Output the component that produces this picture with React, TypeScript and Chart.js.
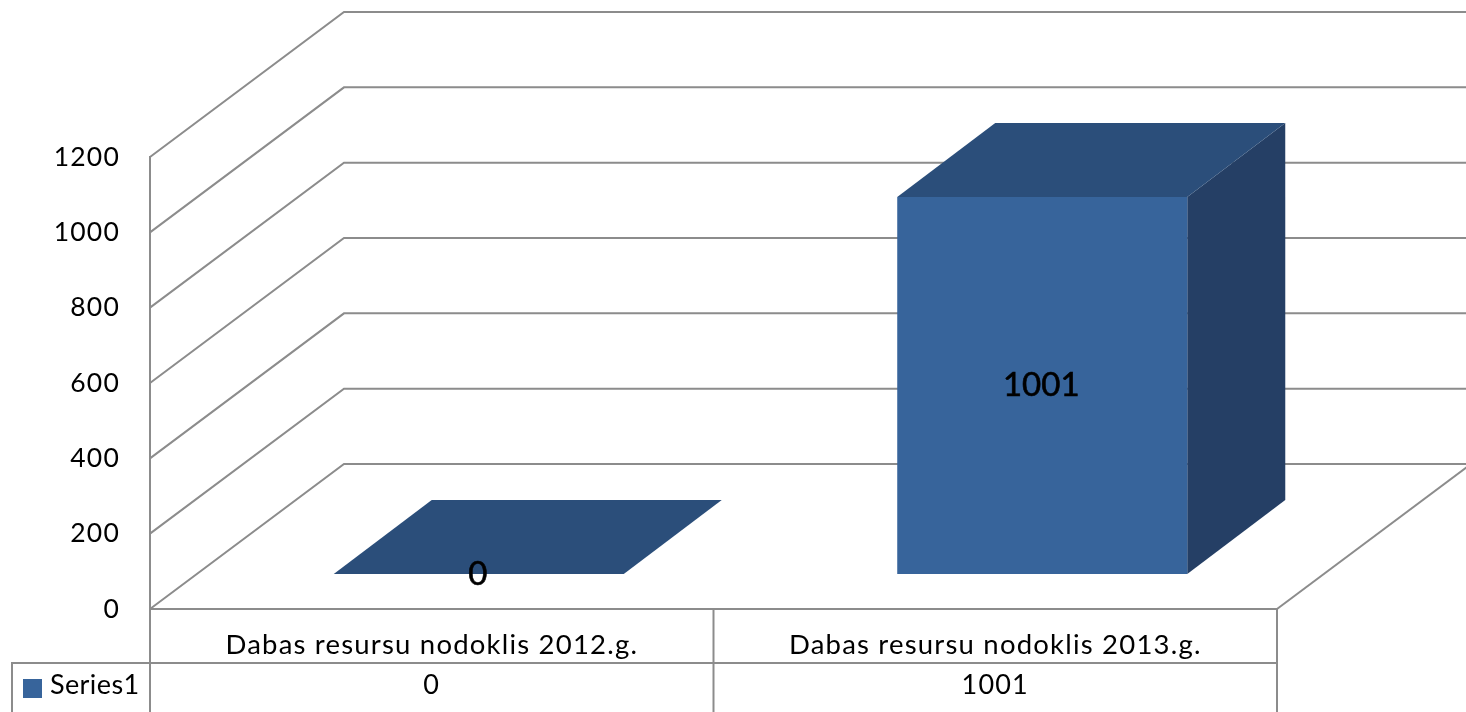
import React, { useEffect, useRef } from "react";
import { Chart, registerables } from "chart.js";

Chart.register(...registerables);

const categories = ["Dabas resursu nodoklis 2012.g.", "Dabas resursu nodoklis 2013.g."];
const seriesName = "Series1";
const seriesValues = [0, 1001];

const FONT = "Lato";
const SPACING = "1.2px";
const LINE = "#8c8c8c";
const FRONT = "#37649b";
const TOP = "#2b4e7a";
const SIDE = "#253f65";

const WALL_DX = 194;
const WALL_DY = 145;
const BAR_DX = 47;
const BAR_DY = 35;
const DEPTH_DX = 98;
const DEPTH_DY = 74;

function poly(ctx: CanvasRenderingContext2D, pts: number[][], fill: string) {
  ctx.beginPath();
  pts.forEach((p, i) => (i ? ctx.lineTo(p[0], p[1]) : ctx.moveTo(p[0], p[1])));
  ctx.closePath();
  ctx.fillStyle = fill;
  ctx.fill();
}

function seg(ctx: CanvasRenderingContext2D, pts: number[][], width: number) {
  ctx.beginPath();
  pts.forEach((p, i) => (i ? ctx.lineTo(p[0], p[1]) : ctx.moveTo(p[0], p[1])));
  ctx.strokeStyle = LINE;
  ctx.lineWidth = width;
  ctx.stroke();
}

const spacingPlugin = {
  id: "spacing",
  beforeLayout(chart: any) {
    chart.ctx.letterSpacing = SPACING;
  },
  beforeDraw(chart: any) {
    chart.ctx.letterSpacing = SPACING;
  },
};

const wallsPlugin = {
  id: "walls",
  beforeDatasetsDraw(chart: any) {
    const { ctx, scales } = chart;
    const { x, y } = scales;
    const left = x.left;
    const right = x.right;
    const edge = chart.width + 10;
    ctx.save();
    ctx.lineJoin = "miter";
    y.ticks.forEach((t: any) => {
      const py = y.getPixelForValue(t.value);
      seg(ctx, [[left, py], [left + WALL_DX, py - WALL_DY], [edge, py - WALL_DY]], 2);
    });
    const base = y.getPixelForValue(0);
    seg(ctx, [[right, base], [right + WALL_DX, base - WALL_DY]], 2);
    const bottom = chart.height + 2;
    const rowY = 663;
    const mid = (x.getPixelForValue(0) + x.getPixelForValue(1)) / 2;
    seg(ctx, [[left, y.bottom], [left, bottom]], 2);
    seg(ctx, [[mid, base], [mid, bottom]], 2);
    seg(ctx, [[right, base], [right, bottom]], 2);
    seg(ctx, [[12, bottom], [12, rowY], [right, rowY]], 2);
    ctx.fillStyle = FRONT;
    ctx.fillRect(23, 679, 19, 19);
    ctx.fillStyle = "#000000";
    ctx.font = `27px ${FONT}`;
    ctx.textBaseline = "middle";
    ctx.textAlign = "left";
    ctx.letterSpacing = "0.4px";
    ctx.fillText(seriesName, 50, 685);
    ctx.letterSpacing = SPACING;
    ctx.textAlign = "center";
    seriesValues.forEach((v, i) => ctx.fillText(String(v), x.getPixelForValue(i), 685));
    ctx.restore();
  },
  beforeDatasetDraw(chart: any, args: any) {
    const { ctx } = chart;
    const meta = chart.getDatasetMeta(args.index);
    ctx.save();
    ctx.translate(BAR_DX, -BAR_DY);
    meta.data.forEach((el: any) => {
      const l = el.x - el.width / 2;
      const r = el.x + el.width / 2;
      const t = el.y;
      const b = el.base;
      poly(ctx, [[r, t], [r + DEPTH_DX, t - DEPTH_DY], [r + DEPTH_DX, b - DEPTH_DY], [r, b]], SIDE);
      poly(ctx, [[l, t], [l + DEPTH_DX, t - DEPTH_DY], [r + DEPTH_DX, t - DEPTH_DY], [r, t]], TOP);
    });
  },
  afterDatasetDraw(chart: any) {
    chart.ctx.restore();
  },
  afterDatasetsDraw(chart: any) {
    const { ctx } = chart;
    const meta = chart.getDatasetMeta(0);
    ctx.save();
    ctx.translate(BAR_DX, -BAR_DY);
    ctx.font = `33px ${FONT}`;
    ctx.letterSpacing = "0px";
    ctx.textAlign = "center";
    ctx.textBaseline = "middle";
    ctx.fillStyle = "#000000";
    ctx.strokeStyle = "#000000";
    ctx.lineWidth = 0.6;
    meta.data.forEach((el: any, i: number) => {
      const cy = (el.y + el.base) / 2;
      ctx.fillText(String(seriesValues[i]), el.x - 1, cy);
      ctx.strokeText(String(seriesValues[i]), el.x - 1, cy);
    });
    ctx.restore();
  },
};

export default function App() {
  const ref = useRef<HTMLCanvasElement>(null);
  useEffect(() => {
    document.body.style.margin = "0";
    document.body.style.overflow = "hidden";
    const chart = new Chart(ref.current as HTMLCanvasElement, {
      type: "bar",
      data: {
        labels: categories,
        datasets: [
          {
            label: seriesName,
            data: seriesValues,
            backgroundColor: FRONT,
            borderWidth: 0,
            barPercentage: 1,
            categoryPercentage: 0.5147,
            clip: false,
          } as any,
        ],
      },
      options: {
        animation: false,
        responsive: false,
        layout: { padding: { top: 157, right: 189, left: 0, bottom: 0 } },
        plugins: { legend: { display: false }, tooltip: { enabled: false } },
        scales: {
          x: {
            grid: { display: false, drawTicks: false },
            border: { display: true, color: LINE, width: 2 },
            ticks: {
              color: "#000000",
              font: { family: FONT, size: 27.5 },
              padding: 20,
              maxRotation: 0,
              autoSkip: false,
            },
            afterFit(scale: any) {
              scale.height = 103;
            },
          },
          y: {
            min: 0,
            max: 1200,
            grid: { display: false, drawTicks: false },
            border: { display: true, color: LINE, width: 2 },
            ticks: {
              stepSize: 200,
              color: "#000000",
              font: { family: FONT, size: 26.5 },
              padding: 30,
              callback: (v: any) => String(v),
            },
            afterFit(scale: any) {
              scale.width = 150;
            },
          },
        },
      },
      plugins: [spacingPlugin, wallsPlugin],
    });
    return () => chart.destroy();
  }, []);
  return (
    <div style={{ width: 1466, height: 712 }}>
      <canvas ref={ref} width={1466} height={712} style={{ display: "block" }} />
    </div>
  );
}
